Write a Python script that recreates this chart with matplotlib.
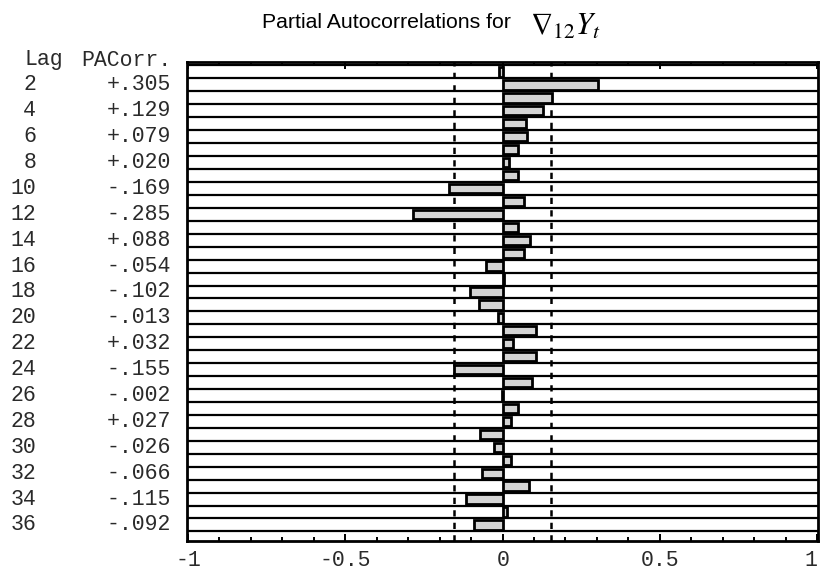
import matplotlib
matplotlib.use("Agg")
import matplotlib.pyplot as plt
import numpy as np

# Partial autocorrelations of the seasonally differenced series, lags 1..36
lags = list(range(1, 37))
pacf = [-0.010, 0.305, 0.156, 0.129, 0.076, 0.079, 0.048, 0.020, 0.048, -0.169,
        0.067, -0.285, 0.048, 0.088, 0.067, -0.054, 0.004, -0.102, -0.076, -0.013,
        0.105, 0.032, 0.107, -0.155, 0.095, -0.002, 0.050, 0.027, -0.073, -0.026,
        0.027, -0.066, 0.085, -0.115, 0.015, -0.092]
conf_limit = 0.153
xtick_vals = [-1, -0.5, 0, 0.5, 1]
xtick_labels = ["-1", "-0.5", "0", "0.5", "1"]

W, H = 821, 572
fig = plt.figure(figsize=(W / 100, H / 100), dpi=100)
fig.patch.set_facecolor("white")

ax_left, ax_right, ax_top, ax_bot = 187, 818, 62, 541
ax = fig.add_axes([ax_left / W, 1 - ax_bot / H, (ax_right - ax_left) / W, (ax_bot - ax_top) / H])

ax.set_xlim(-1.003, 1.003)
ax.set_ylim(37.24, 0.23)

# row separators
for k in range(0, 37):
    ax.axhline(k + 0.5, color="black", lw=1.6, zorder=1)

# confidence limits
for c in (-conf_limit, conf_limit):
    ax.axvline(c, color="black", lw=1.8, ls=(0, (2.5, 2.5)), zorder=2)

# bars
ax.barh(lags, pacf, height=0.72, left=0, color="#d4d4d4", edgecolor="black",
        linewidth=2.0, zorder=3)

# axes frame and ticks
for s in ax.spines.values():
    s.set_linewidth(2.0)
ax.set_yticks([])
ax.set_xticks(xtick_vals)
ax.set_xticks(np.arange(-1, 1.01, 0.1), minor=True)
ax.tick_params(axis="x", which="both", direction="in", top=True, bottom=True,
               labelbottom=False, width=1.4)
ax.tick_params(axis="x", which="major", length=5)
ax.tick_params(axis="x", which="minor", length=3)

mono = "Liberation Mono"
tcol = "#2a2a2a"
fs = 15.5

# tick labels under the frame
for v, lab in zip(xtick_vals, xtick_labels):
    x_px = min(503 + v * 315, 811)
    fig.text(x_px / W, 1 - 560 / H, lab, ha="center", va="center",
             family=mono, fontsize=fs, color=tcol)

# lag / value table on the left
fig.text(24 / W, 1 - 60 / H, "Lag", ha="left", va="center", family=mono,
         fontsize=fs, color=tcol)
fig.text(171 / W, 1 - 60 / H, "PACorr.", ha="right", va="center", family=mono,
         fontsize=fs, color=tcol)
for lag, val in zip(lags, pacf):
    if lag % 2:
        continue
    y_px = 72 + (lag - 1) * 12.94
    fig.text(36 / W, 1 - y_px / H, str(lag), ha="right", va="center",
             family=mono, fontsize=fs, color=tcol)
    txt = f"{val:+.3f}".replace("0.", ".", 1)
    fig.text(171 / W, 1 - y_px / H, txt, ha="right", va="center",
             family=mono, fontsize=fs, color=tcol)

# title
fig.text(386 / W, 1 - 22 / H, "Partial Autocorrelations for", ha="center",
         va="center", family="Liberation Sans", fontsize=15.3, color="black")
plt.rcParams["mathtext.fontset"] = "stix"
fig.text(530 / W, 1 - 26 / H, r"$\nabla_{12}Y_t$", ha="left", va="center",
         fontsize=22, color="black")

fig.savefig("out.png", dpi=100, facecolor="white")
